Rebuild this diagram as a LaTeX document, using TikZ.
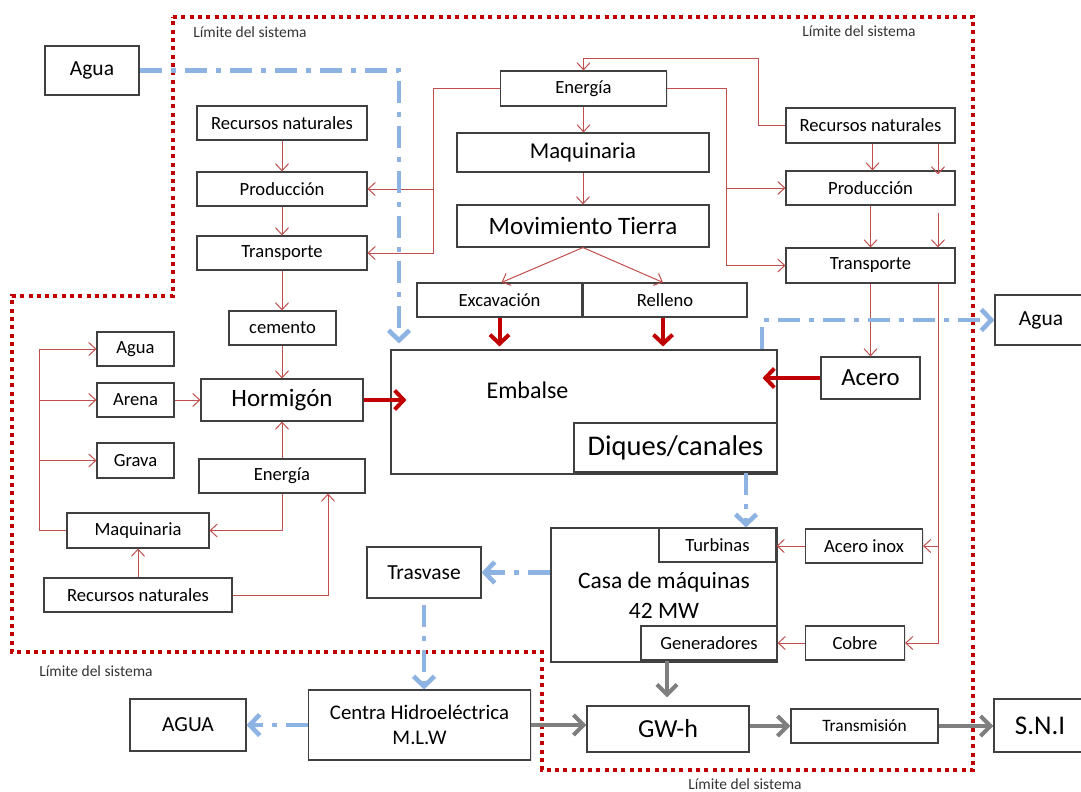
\documentclass[tikz,border=0pt]{standalone}
\usepackage{fontspec}
\setmainfont{Carlito}
\usetikzlibrary{arrows.meta,shadows}
\definecolor{boxc}{HTML}{404040}
\definecolor{redln}{HTML}{C0504D}
\definecolor{darkred}{HTML}{C00000}
\definecolor{bluec}{HTML}{8DB3E2}
\definecolor{grayc}{HTML}{7F7F7F}
\definecolor{limc}{HTML}{333333}

\begin{document}
\begin{tikzpicture}[x=1pt,y=-1pt,
  box/.style={draw=boxc, line width=1.1pt, fill=white, inner sep=0pt, align=center,
    drop shadow={shadow xshift=1.2pt, shadow yshift=-1.2pt, opacity=0.18}},
  ft14/.style={font=\fontsize{18.6}{22}\selectfont},
  ft17/.style={font=\fontsize{17.4}{21}\selectfont},
  ft21/.style={font=\fontsize{21.5}{25}\selectfont},
  ft23/.style={font=\fontsize{22.7}{27}\selectfont},
  ft25/.style={font=\fontsize{25}{30}\selectfont},
  lim/.style={font=\fontsize{15.5}{18}\selectfont, text=limc, inner sep=0pt},
  rln/.style={draw=redln, line width=1pt},
  rarr/.style={rln, -{Straight Barb[length=7pt,width=13pt]}},
  tarr/.style={draw=darkred, line width=4pt, -{Straight Barb[length=9pt,width=19pt]}},
  barr/.style={draw=bluec, line width=4.6pt, dash pattern=on 22pt off 9pt on 5pt off 9pt,
    -{Straight Barb[length=10pt,width=21pt]}},
  garr/.style={draw=grayc, line width=4.2pt, -{Straight Barb[length=10pt,width=20pt]}},
  bound/.style={draw=darkred, line width=4pt, dash pattern=on 4pt off 4.3pt}
]
\fill[white] (0,0) rectangle (1081,792);
\useasboundingbox (0,0) rectangle (1081,792);

% system boundary
\draw[bound] (173,17) -- (973,17) -- (973,770) -- (542,770) -- (542,652)
  -- (12,652) -- (12,296) -- (173,296) -- cycle;
\node[lim] (lim1) at (250,32) {Límite del sistema};
\node[lim] (lim2) at (859,31) {Límite del sistema};
\node[lim] (lim3) at (96,671) {Límite del sistema};
\node[lim] (lim4) at (745,784) {Límite del sistema};

% cement branch
\node[box,ft21,minimum width=94pt,minimum height=49pt] (aguaTL) at (92,70.5) {Agua};
\node[box,ft14,minimum width=170pt,minimum height=34pt] (rnL) at (282,123) {Recursos naturales};
\node[box,ft14,minimum width=170pt,minimum height=34pt] (prodL) at (282,189) {Producción};
\node[box,ft14,minimum width=170pt,minimum height=34pt] (transL) at (282,253) {Transporte};
\node[box,ft14,minimum width=107pt,minimum height=34pt] (cemento) at (282.5,328) {cemento};
\node[box,ft25,minimum width=162pt,minimum height=42pt] (hormigon) at (282,400) {Hormigón};
\node[box,ft14,minimum width=77pt,minimum height=34pt] (aguaS) at (135.5,349) {Agua};
\node[box,ft14,minimum width=77pt,minimum height=34pt] (arena) at (135.5,400) {Arena};
\node[box,ft14,minimum width=77pt,minimum height=35pt] (grava) at (135.5,460.5) {Grava};
\node[box,ft14,minimum width=166pt,minimum height=34pt] (energiaL) at (282,476) {Energía};
\node[box,ft14,minimum width=142pt,minimum height=35pt] (maqL) at (138,530.5) {Maquinaria};
\node[box,ft14,minimum width=188pt,minimum height=34pt] (rnB) at (138,595) {Recursos naturales};
\node[box,ft21,minimum width=114pt,minimum height=51pt] (trasvase) at (424,572.5) {Trasvase};

% earthworks branch
\node[box,ft14,minimum width=166pt,minimum height=35pt] (energiaT) at (583.5,88.5) {Energía};
\node[box,ft23,minimum width=252pt,minimum height=39pt] (maqT) at (583,152.5) {Maquinaria};
\node[box,ft25,minimum width=252pt,minimum height=42pt] (movT) at (583,226) {Movimiento Tierra};
\node[box,ft14,minimum width=165pt,minimum height=34pt] (excav) at (499.5,300) {Excavación};
\node[box,ft14,minimum width=164pt,minimum height=34pt] (relleno) at (665,300) {Relleno};

% reservoir
\node[box,minimum width=386pt,minimum height=124pt] (embalse) at (584,412) {};
\node[inner sep=0pt,font=\fontsize{24}{28}\selectfont] (embalseT) at (527.5,390) {Embalse};
\node[box,font=\fontsize{28.5}{33}\selectfont,minimum width=203pt,minimum height=49pt] (diques) at (675.5,447.5) {Diques/canales};

% steel branch
\node[box,ft14,minimum width=169pt,minimum height=35pt] (rnR) at (870.5,125.5) {Recursos naturales};
\node[box,ft14,minimum width=169pt,minimum height=34pt] (prodR) at (870.5,188) {Producción};
\node[box,ft14,minimum width=169pt,minimum height=35pt] (transR) at (870.5,265.5) {Transporte};
\node[box,ft21,minimum width=92pt,minimum height=50pt] (aguaR) at (1041,320) {Agua};
\node[box,font=\fontsize{24.7}{29}\selectfont,minimum width=99pt,minimum height=42pt] (acero) at (870.5,378) {Acero};

% power house
\node[box,font=\fontsize{23.5}{30}\selectfont,minimum width=226pt,minimum height=134pt] (casa) at (664,595) {Casa de máquinas\\42 MW};
\node[box,ft14,minimum width=117pt,minimum height=34pt] (turbinas) at (717.5,545) {Turbinas};
\node[box,ft14,minimum width=136pt,minimum height=34pt] (generadores) at (709,643) {Generadores};
\node[box,ft14,minimum width=117pt,minimum height=34pt] (aceroInox) at (864,546) {Acero inox};
\node[box,ft14,minimum width=99pt,minimum height=34pt] (cobre) at (855,643) {Cobre};

% output chain
\node[box,font=\fontsize{20.8}{25}\selectfont,minimum width=222pt,minimum height=70pt] (centra) at (419.5,725) {Centra Hidroeléctrica\\M.L.W};
\node[box,ft21,minimum width=116pt,minimum height=52pt] (aguaB) at (188,725) {AGUA};
\node[box,font=\fontsize{26}{30}\selectfont,minimum width=162pt,minimum height=46pt] (gwh) at (668,729) {GW-h};
\node[box,ft17,minimum width=147pt,minimum height=34pt] (transm) at (864.5,726) {Transmisión};
\node[box,font=\fontsize{27}{31}\selectfont,minimum width=92pt,minimum height=53pt] (sni) at (1040,725.5) {S.N.I};

% helper columns
\coordinate (lx) at (39,0);
\coordinate (bx) at (433,0);
\coordinate (cx) at (726,0);
\coordinate (rx) at (938,0);
\coordinate (topr) at (758,59);
\coordinate (wl) at (399,0);
\coordinate (wr) at (762,0);
\coordinate (wd) at (746,0);
\coordinate (gx) at (667,0);
\coordinate (rlx) at (663,0);

% thin material flows
\draw[rarr] (rnL.south) -- (prodL.north);
\draw[rarr] (prodL.south) -- (transL.north);
\draw[rarr] (transL.south) -- (transL.south |- cemento.north);
\draw[rarr] (cemento.south -| hormigon.north) -- (hormigon.north);
\draw[rarr] (arena.east) -- (hormigon.west);
\draw[rarr] (energiaL.north) -- (hormigon.south);
\draw[rarr] (energiaL.south) |- (maqL.east);
\draw[rarr] (rnB.north) -- (maqL.south);
\draw[rarr] (rnB.east) -| ([xshift=46pt]energiaL.south);
\draw[rarr] (maqL.west) -| (lx |- aguaS.west) -- (aguaS.west);
\draw[rarr] (lx |- arena.west) -- (arena.west);
\draw[rarr] (lx |- grava.west) -- (grava.west);

\draw[rarr] (energiaT.south) -- (energiaT.south |- maqT.north);
\draw[rarr] (maqT.south) -- (movT.north);
\draw[rarr] (movT.south) -- ([xshift=2pt]excav.north);
\draw[rarr] (movT.south) -- ([xshift=-2pt]relleno.north);
\draw[rarr] (energiaT.west) -| (bx |- transL.east) -- (transL.east);
\draw[rarr] (bx |- prodL.east) -- (prodL.east);
\draw[rarr] (energiaT.east) -| (cx |- transR.west) -- (transR.west);
\draw[rarr] (cx |- prodR.west) -- (prodR.west);
\draw[rarr] (rnR.west) -| (topr) -| (energiaT.north);

\draw[rarr] ([xshift=2pt]rnR.south) -- ([xshift=2pt]prodR.north);
\draw[rarr] (rnR.south -| rx) -- ([yshift=-4pt]prodR.north -| rx);
\draw[rarr] (prodR.south) -- (transR.north);
\draw[rarr] ([yshift=-7pt]prodR.south -| rx) -- (transR.north -| rx);
\draw[rarr] (transR.south) -- (acero.north);
\draw[rarr] (transR.south -| rx) |- (aceroInox.east);
\draw[rarr] (aceroInox.east -| rx) |- (cobre.east);
\draw[rarr] (aceroInox.west) -- (aceroInox.west -| turbinas.east);
\draw[rarr] (cobre.west) -- (generadores.east);

% main inputs to the reservoir
\draw[tarr] (hormigon.east) -- ([xshift=16pt]embalse.west |- hormigon.east);
\draw[tarr] (excav.south) -- ([yshift=3pt]embalse.north -| excav.south);
\draw[tarr] (relleno.south -| rlx) -- ([yshift=3pt]embalse.north -| rlx);
\draw[tarr] (acero.west) -- ([xshift=-15pt]embalse.east |- acero.west);

% water flows
\draw[barr] (aguaTL.east) -| ([yshift=6pt]embalse.north -| wl);
\draw[barr] (embalse.north -| wr) |- (aguaR.west);
\draw[barr] (diques.south -| wd) -- (turbinas.north -| wd);
\draw[barr] (casa.west |- trasvase.east) -- (trasvase.east);
\draw[barr] ([yshift=-6pt]trasvase.south) -- (trasvase.south |- centra.north);
\draw[barr] (centra.west) -- (aguaB.east);

% energy output
\draw[garr] (generadores.south -| gx) -- ([yshift=8pt]gwh.north -| gx);
\draw[garr] (centra.east) -- (centra.east -| gwh.west);
\draw[garr] (gwh.east |- transm.west) -- (transm.west);
\draw[garr] (transm.east) -- (sni.west |- transm.east);
\end{tikzpicture}
\end{document}
